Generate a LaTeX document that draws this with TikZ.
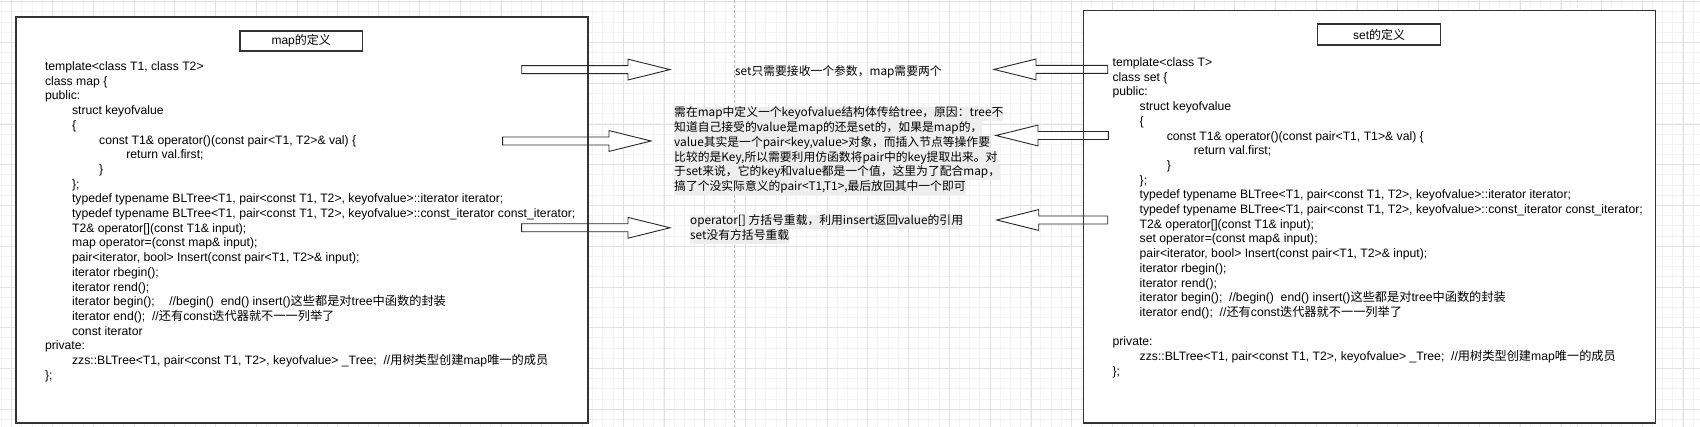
\documentclass[tikz,border=0pt]{standalone}
\usepackage{fontspec}
\setmainfont{Liberation Sans}
\newfontfamily\cjk{Noto Sans CJK SC}
\usetikzlibrary{calc}

\definecolor{gridminor}{HTML}{F3F3F3}
\definecolor{gridmajor}{HTML}{E2E2E2}
\definecolor{hlgray}{HTML}{EEEEEE}
\definecolor{boxline}{HTML}{333333}

\newcommand{\zh}[1]{{\cjk #1}}
\newcommand{\tb}{\hspace*{27.1pt}}
\newcommand{\hl}[1]{{\setlength{\fboxsep}{0pt}\colorbox{hlgray}{\strut #1}}}
% fat outline arrow from #1 to #2
\newcommand{\fatarrow}[2]{%
  \draw[fatarrow] ($(#1)+(0,-4)$) -- ($(#2)!42pt!(#1)+(0,-4)$) -- ($(#2)!42pt!(#1)+(0,-10.4)$)
    -- (#2) -- ($(#2)!42pt!(#1)+(0,10.4)$) -- ($(#2)!42pt!(#1)+(0,4)$) -- ($(#1)+(0,4)$) -- cycle;}

\tikzset{
  codebox/.style={draw=boxline, line width=1.2pt, fill=white, inner sep=0pt, anchor=north west},
  titlebox/.style={draw=boxline, line width=1.2pt, fill=white, inner sep=0pt, font=\fontsize{12}{14}\selectfont},
  codetext/.style={anchor=north west, inner sep=0pt, align=left, font=\fontsize{12.2}{14.7}\selectfont},
  note/.style={inner sep=0pt, align=left, font=\cjk\fontsize{11.8}{14.7}\selectfont},
  fatarrow/.style={draw=black!85, line width=0.9pt, fill=white, line join=miter},
}

\begin{document}
\begin{tikzpicture}[x=1pt, y=-1pt]
\useasboundingbox (0,0) rectangle (1700,427);

% grid
\foreach \i in {0,...,166} \draw[gridminor, line width=0.8pt] ({1.5+10.19*\i},0) -- ({1.5+10.19*\i},427);
\foreach \j in {0,...,41} \draw[gridminor, line width=0.8pt] (0,{1.6+10.19*\j}) -- (1700,{1.6+10.19*\j});
\foreach \i in {0,...,41} \draw[gridmajor, line width=0.8pt] ({11.7+40.77*\i},0) -- ({11.7+40.77*\i},427);
\foreach \j in {0,...,10} \draw[gridmajor, line width=0.8pt] (0,{1.6+40.77*\j}) -- (1700,{1.6+40.77*\j});
\draw[black!25, line width=1.3pt, dash pattern=on 3pt off 2pt] (734.3,0) -- (734.3,427);
\draw[black!12, line width=1pt, dash pattern=on 3pt off 2pt] (1577.7,0) -- (1577.7,427);

% the two class boxes
\node[codebox, minimum width=571.4pt, minimum height=405pt] (mapbox) at (15.3,17) {};
\node[codebox, minimum width=571.3pt, minimum height=411.7pt] (setbox) at (1083.2,10.3) {};

\node[titlebox, minimum width=122.4pt, minimum height=20pt] (maptitle) at (301.2,41) {map\zh{的定义}};
\node[titlebox, minimum width=123pt, minimum height=21pt] (settitle) at (1379.1,34.5) {set\zh{的定义}};

\node[codetext] (mapcode) at (44.8,60.1) {\strut template<class T1, class T2>\\
class map \{\\
public:\\
\tb struct keyofvalue\\
\tb \{\\
\tb\tb const T1\& operator()(const pair<T1, T2>\& val) \{\\
\tb\tb\tb return val.first;\\
\tb\tb \}\\
\tb \};\\
\tb typedef typename BLTree<T1, pair<const T1, T2>, keyofvalue>::iterator iterator;\\
\tb typedef typename BLTree<T1, pair<const T1, T2>, keyofvalue>::const\_iterator const\_iterator;\\
\tb T2\& operator[](const T1\& input);\\
\tb map operator=(const map\& input);\\
\tb pair<iterator, bool> Insert(const pair<T1, T2>\& input);\\
\tb iterator rbegin();\\
\tb iterator rend();\\
\tb iterator begin();\hspace{14.5pt}//begin()\ \ end() insert()\zh{这些都是对}tree\zh{中函数的封装}\\
\tb iterator end();\ \ //\zh{还有}const\zh{迭代器就不一一列举了}\\
\tb const iterator\\
private:\\
\tb zzs::BLTree<T1, pair<const T1, T2>, keyofvalue> \_Tree;\ \ //\zh{用树类型创建}map\zh{唯一的成员}\\
\};};

\node[codetext] (setcode) at (1112.4,56.1) {\strut template<class T>\\
class set \{\\
public:\\
\tb struct keyofvalue\\
\tb \{\\
\tb\tb const T1\& operator()(const pair<T1, T1>\& val) \{\\
\tb\tb\tb return val.first;\\
\tb\tb \}\\
\tb \};\\
\tb typedef typename BLTree<T1, pair<const T1, T2>, keyofvalue>::iterator iterator;\\
\tb typedef typename BLTree<T1, pair<const T1, T2>, keyofvalue>::const\_iterator const\_iterator;\\
\tb T2\& operator[](const T1\& input);\\
\tb set operator=(const map\& input);\\
\tb pair<iterator, bool> Insert(const pair<T1, T2>\& input);\\
\tb iterator rbegin();\\
\tb iterator rend();\\
\tb iterator begin();\ \ //begin()\ \ end() insert()\zh{这些都是对}tree\zh{中函数的封装}\\
\tb iterator end();\ \ //\zh{还有}const\zh{迭代器就不一一列举了}\\
\strut\\
private:\\
\tb zzs::BLTree<T1, pair<const T1, T2>, keyofvalue> \_Tree;\ \ //\zh{用树类型创建}map\zh{唯一的成员}\\
\};};

% notes in the middle
\node[note, anchor=west] (paramnote) at (735,72) {set只需要接收一个参数，map需要两个};
\node[note, anchor=north west] (keynote) at (674,106.5) {\hl{需在map中定义一个keyofvalue结构体传给tree，原因：tree不}\\
\hl{知道自己接受的value是map的还是set的，如果是map的，}\\
\hl{value其实是一个pair<key,value>对象，而插入节点等操作要}\\
\hl{比较的是Key,所以需要利用仿函数将pair中的key提取出来。对}\\
\hl{于set来说，它的key和value都是一个值，这里为了配合map，}\\
\hl{搞了个没实际意义的pair<T1,T1>,最后放回其中一个即可}};
\node[note, anchor=north west] (opnote) at (690,214.5) {\hl{operator[] 方括号重载，利用insert返回value的引用}\\
\hl{set没有方括号重载}};

% arrows
\coordinate (a1s) at (521.7,69.6);  \coordinate (a1t) at (670,69.6);
\coordinate (a2s) at (502.6,141);   \coordinate (a2t) at (651,141);
\coordinate (a3s) at (521.6,227.8); \coordinate (a3t) at (670,227.8);
\coordinate (a4s) at (1107.7,69.4); \coordinate (a4t) at (994,69.4);
\coordinate (a5s) at (1108.3,135.5); \coordinate (a5t) at (996,135.5);
\coordinate (a6s) at (1107.7,220);  \coordinate (a6t) at (996.7,220);
\fatarrow{a1s}{a1t}
\fatarrow{a2s}{a2t}
\fatarrow{a3s}{a3t}
\fatarrow{a4s}{a4t}
\fatarrow{a5s}{a5t}
\fatarrow{a6s}{a6t}

\draw[boxline, line width=1.2pt] (mapbox.north west) rectangle (mapbox.south east);
\draw[boxline, line width=1.2pt] (setbox.north west) rectangle (setbox.south east);
\end{tikzpicture}
\end{document}
